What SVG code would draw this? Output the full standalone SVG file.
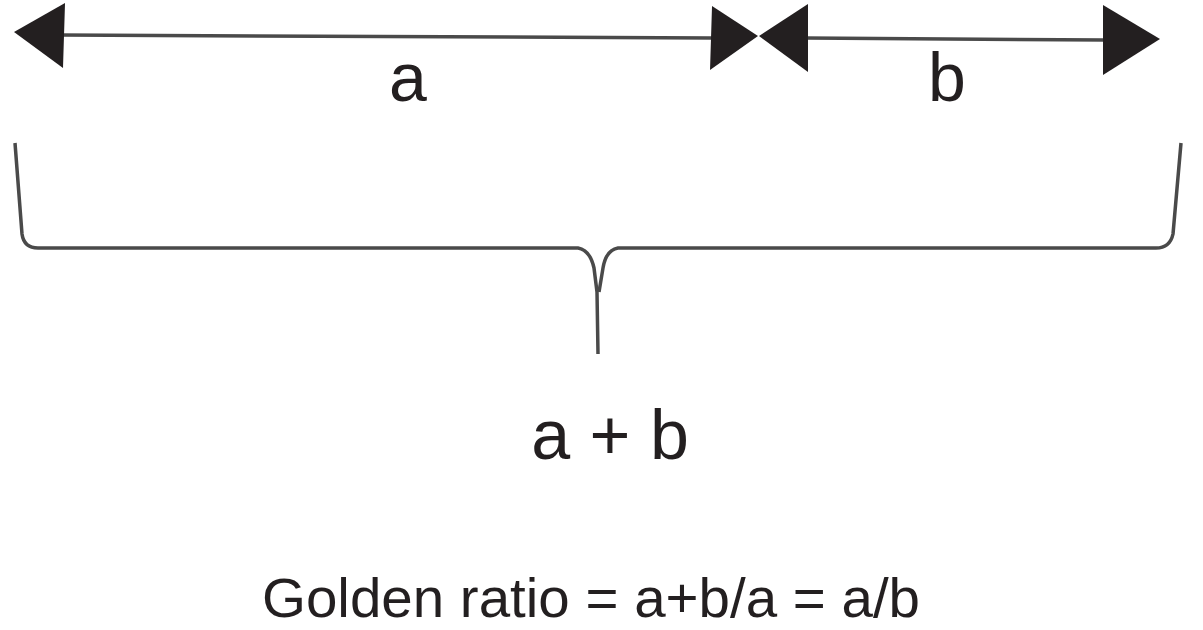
<svg xmlns="http://www.w3.org/2000/svg" width="1203" height="630" viewBox="0 0 1203 630">
<style>
.ln{fill:none;stroke:#4a4a4a;stroke-width:3.5;stroke-linecap:butt;stroke-linejoin:round}
.hd{fill:#231f20}
.t{font-family:"Liberation Sans",Arial,Helvetica,sans-serif;fill:#231f20;text-anchor:middle}
</style>
<rect width="1203" height="630" fill="#fff"/>
<g id="connectors">
<path class="ln" d="M60,35 L712,38"/>
<path class="ln" d="M806,38 L1105,40"/>
<polygon class="hd" points="14,32 65,3 63,68"/>
<polygon class="hd" points="712,6 710,70 758,36"/>
<polygon class="hd" points="759,36 808,4 808,72"/>
<polygon class="hd" points="1103,5 1103,75 1160,39"/>
</g>
<g id="brace">
<path class="ln" d="M15,143 L22,234 Q24,248 38,248 L578,248 Q590,250 594,268 L597,292 L598,354"/>
<path class="ln" d="M1181,143 L1173,234 Q1170,248 1156,248 L618,248 Q606,250 603,268 L599,292"/>
</g>
<g id="label-a"><text class="t" x="408" y="101" font-size="68">a</text></g>
<g id="label-b"><text class="t" x="947" y="101" font-size="68">b</text></g>
<g id="label-ab"><text class="t" x="610" y="459" font-size="70">a + b</text></g>
<g id="formula"><text class="t" x="591" y="617" font-size="56" textLength="658" lengthAdjust="spacingAndGlyphs">Golden ratio = a+b/a = a/b</text></g>
</svg>
